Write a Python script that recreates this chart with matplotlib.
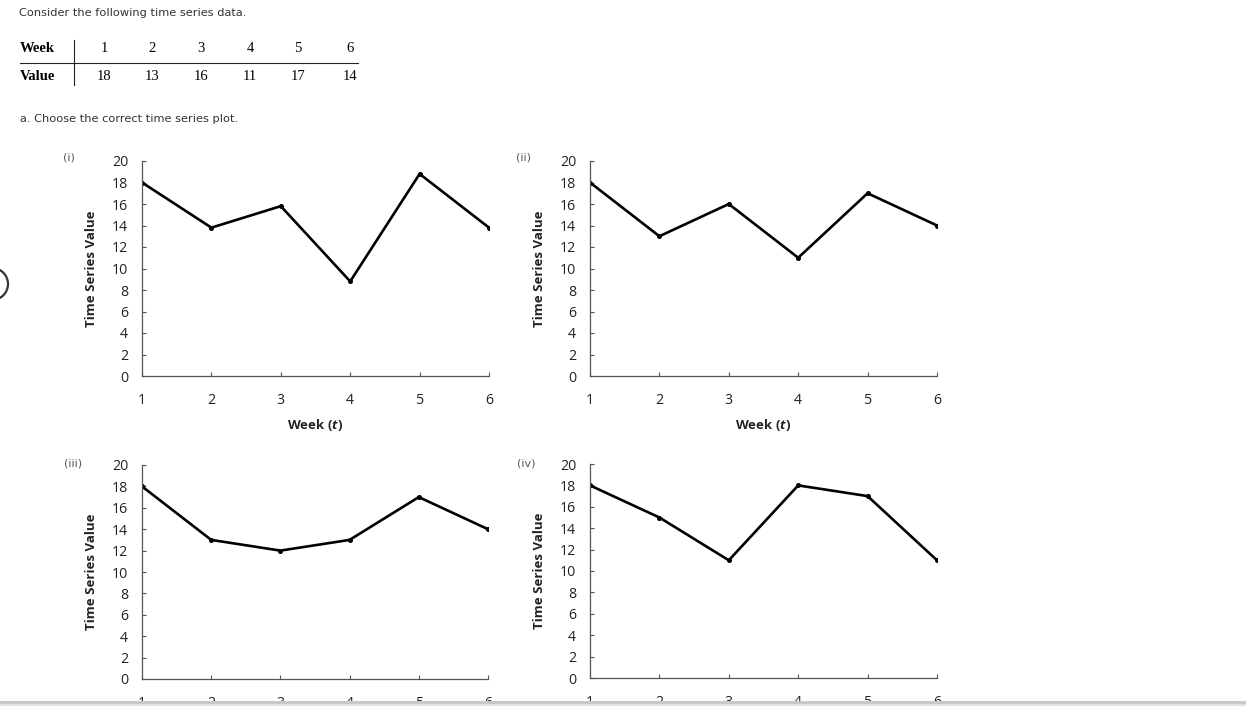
import matplotlib
matplotlib.use("Agg")
import matplotlib.pyplot as plt
from matplotlib.patches import Rectangle, Ellipse

W, H = 1246, 717

plt.rcParams["mathtext.fontset"] = "custom"
plt.rcParams["mathtext.it"] = "Open Sans:italic:bold"
plt.rcParams["mathtext.rm"] = "Open Sans:bold"

# table data
weeks = [1, 2, 3, 4, 5, 6]
values = [18, 13, 16, 11, 17, 14]

# the four candidate plots
plot_i = [18, 13.8, 15.8, 8.8, 18.8, 13.8]
plot_ii = [18, 13, 16, 11, 17, 14]
plot_iii = [18, 13, 12, 13, 17, 14]
plot_iv = [18, 15, 11, 18, 17, 11]
panel_names = ["(i)", "(ii)", "(iii)", "(iv)"]
y_ticks = [0, 2, 4, 6, 8, 10, 12, 14, 16, 18, 20]

fig = plt.figure(figsize=(W / 100, H / 100), dpi=100)
fig.patch.set_facecolor("white")

def fx(px):
    return px / W

def fy(py):
    return 1 - py / H

# header text
fig.text(fx(19), fy(13), "Consider the following time series data.", fontsize=8.2,
         family="DejaVu Sans", color="#333333", va="center", ha="left")
fig.text(fx(20), fy(119), "a. Choose the correct time series plot.", fontsize=8.2,
         family="DejaVu Sans", color="#333333", va="center", ha="left")

# small table
col_x = [104, 152, 201, 250, 298, 350]
fig.text(fx(20), fy(49), "Week", fontsize=10.5, family="Liberation Serif", weight="bold",
         va="center", ha="left")
fig.text(fx(20), fy(77), "Value", fontsize=10.5, family="Liberation Serif", weight="bold",
         va="center", ha="left")
for cx, wk, v in zip(col_x, weeks, values):
    fig.text(fx(cx), fy(49), str(wk), fontsize=10.5, family="Liberation Serif",
             va="center", ha="center")
    fig.text(fx(cx), fy(77), str(v), fontsize=10.5, family="Liberation Serif",
             va="center", ha="center")
fig.add_artist(plt.Line2D([fx(20), fx(358)], [fy(63), fy(63)], color="#222222", lw=0.8))
fig.add_artist(plt.Line2D([fx(74), fx(74)], [fy(40), fy(85)], color="#222222", lw=0.8))

# partial circle on the left edge
fig.add_artist(Ellipse((fx(-8), fy(284)), 32 / W, 32 / H, transform=fig.transFigure,
                       fill=False, edgecolor="#333333", lw=1.6))

# axes boxes in pixels: left, top, right, bottom
boxes = [(142, 161, 489, 376), (590, 161, 937, 376),
         (142, 465, 488, 679), (590, 464, 937, 678)]
series = [plot_i, plot_ii, plot_iii, plot_iv]
label_pos = [(63, 158), (516, 158), (64, 463), (517, 463)]

for k, ((l, t, r, b), ys, name, (lx, ly)) in enumerate(zip(boxes, series, panel_names, label_pos)):
    ax = fig.add_axes([fx(l), fy(b), (r - l) / W, (b - t) / H])
    ax.plot(weeks, ys, color="black", lw=1.9, marker="o", markersize=2.6)
    ax.set_xlim(1, 6)
    ax.set_ylim(0, 20)
    ax.set_xticks(weeks)
    ax.set_yticks(y_ticks)
    for s in ["top", "right"]:
        ax.spines[s].set_visible(False)
    for s in ["left", "bottom"]:
        ax.spines[s].set_color("#555555")
        ax.spines[s].set_linewidth(0.9)
    ax.tick_params(axis="y", direction="in", length=3, width=0.8, color="#555555",
                   pad=10, labelsize=10.2, labelcolor="#222222")
    ax.tick_params(axis="x", direction="in", length=3, width=0.8, color="#555555",
                   pad=12, labelsize=10.2, labelcolor="#222222")
    for lab in ax.get_xticklabels() + ax.get_yticklabels():
        lab.set_family("Open Sans")
    ax.set_ylabel("Time Series Value", fontsize=9.5, weight="bold", family="Open Sans",
                  color="#222222", labelpad=10)
    if k < 2:
        ax.set_xlabel(r"Week ($\mathit{t}$)", fontsize=9.5,
                      weight="bold", family="Open Sans", color="#222222", labelpad=7)
    fig.text(fx(lx), fy(ly), name, fontsize=8, family="DejaVu Sans", color="#555555",
             va="center", ha="left")

# bottom strip hides the lower x labels
fig.add_artist(Rectangle((0, 0), 1, fy(701), transform=fig.transFigure,
                         facecolor="white", edgecolor="none", zorder=20))
fig.add_artist(Rectangle((0, fy(704)), 1, 3 / H, transform=fig.transFigure,
                         facecolor="#c8c8c8", edgecolor="none", zorder=21))
fig.add_artist(Rectangle((0, fy(706)), 1, 2 / H, transform=fig.transFigure,
                         facecolor="#e2e2e2", edgecolor="none", zorder=21))

fig.savefig("out.png", dpi=100)
